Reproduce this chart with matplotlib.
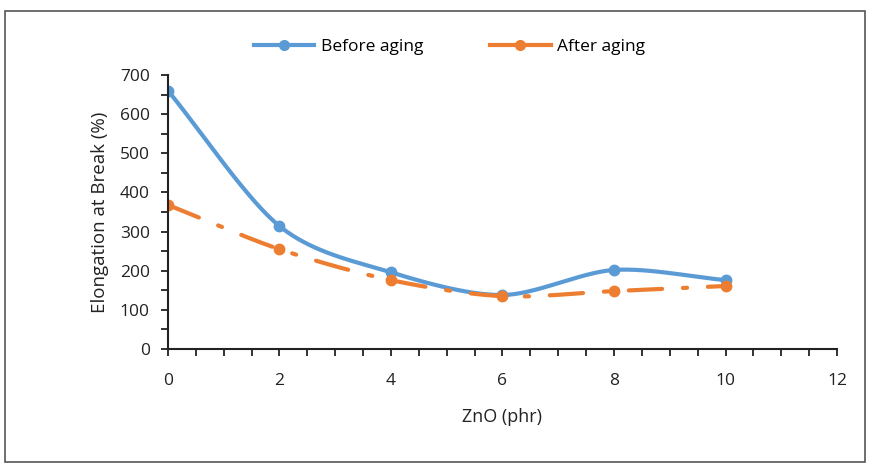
import numpy as np
import matplotlib
matplotlib.use("Agg")
import matplotlib.pyplot as plt
from matplotlib.ticker import MultipleLocator
from matplotlib.patches import Rectangle

zno = [0, 2, 4, 6, 8, 10]
before_aging = [660, 314, 196, 138, 202, 176]
after_aging = [368, 255, 176, 135, 148, 161]
x_label = "ZnO (phr)"
y_label = "Elongation at Break (%)"
series_names = ["Before aging", "After aging"]


def smooth(xs, ys, n=40):
    xs = np.asarray(xs, float); ys = np.asarray(ys, float)
    px = np.concatenate([[2*xs[0]-xs[1]], xs, [2*xs[-1]-xs[-2]]])
    py = np.concatenate([[2*ys[0]-ys[1]], ys, [2*ys[-1]-ys[-2]]])
    ox, oy = [], []
    for i in range(1, len(px)-2):
        t = np.linspace(0, 1, n, endpoint=False) if i < len(px)-3 else np.linspace(0, 1, n)
        for arr, out in ((px, ox), (py, oy)):
            p0, p1, p2, p3 = arr[i-1], arr[i], arr[i+1], arr[i+2]
            m1 = (p2 - p0) / 2 * 0.9
            m2 = (p3 - p1) / 2 * 0.9
            h00 = 2*t**3 - 3*t**2 + 1
            h10 = t**3 - 2*t**2 + t
            h01 = -2*t**3 + 3*t**2
            h11 = t**3 - t**2
            out.extend(h00*p1 + h10*m1 + h01*p2 + h11*m2)
    return np.array(ox), np.array(oy)

plt.rcParams['font.family'] = ['Open Sans', 'DejaVu Sans']
fig = plt.figure(figsize=(8.73, 4.70), dpi=100)
ax = fig.add_axes([0.1924, 0.2574, 0.7664, 0.583])

blue = "#5B9BD5"
orange = "#ED7D31"

sx, sy = smooth(zno, before_aging)
ax.plot(sx, sy, color=blue, lw=3, solid_capstyle='round')
ax.plot(zno, before_aging, 'o', color=blue, ms=7.5)
ax.plot([], [], color=blue, lw=3, marker='o', ms=7, label=series_names[0])

sx2, sy2 = smooth(zno, after_aging)
ax.plot(sx2, sy2, color=orange, lw=3, dashes=(8, 5, 1, 5), dash_capstyle='round')
ax.plot(zno, after_aging, 'o', color=orange, ms=7.5)
ax.plot([], [], color=orange, lw=3, marker='o', ms=7, label=series_names[1])

ax.set_xlim(0, 12)
ax.set_ylim(0, 700)
ax.xaxis.set_major_locator(MultipleLocator(2))
ax.xaxis.set_minor_locator(MultipleLocator(0.5))
ax.yaxis.set_major_locator(MultipleLocator(100))
ax.yaxis.set_minor_locator(MultipleLocator(50))
for s in ['top', 'right']:
    ax.spines[s].set_visible(False)
for s in ['left', 'bottom']:
    ax.spines[s].set_linewidth(1.5)
    ax.spines[s].set_color('#222222')
ax.tick_params(which='both', direction='out', length=5, width=1.3, color='#222222',
               labelsize=12.5, labelcolor='#222222')
ax.tick_params(axis='x', pad=12)
ax.tick_params(axis='y', pad=8)
ax.set_xlabel(x_label, fontsize=13, color='#222222', labelpad=14)
ax.set_ylabel(y_label, fontsize=13.5, color='#222222', labelpad=8)

fig.legend(loc='upper center', bbox_to_anchor=(0.515, 0.95), ncol=2, frameon=False,
           fontsize=12.5, handlelength=3.5, columnspacing=3.8, handletextpad=0.4)

fig.patches.append(Rectangle((0.006, 0.017), 0.985, 0.96, transform=fig.transFigure,
                             fill=False, edgecolor='#555555', lw=1.2))

fig.savefig("out.png", dpi=100)
